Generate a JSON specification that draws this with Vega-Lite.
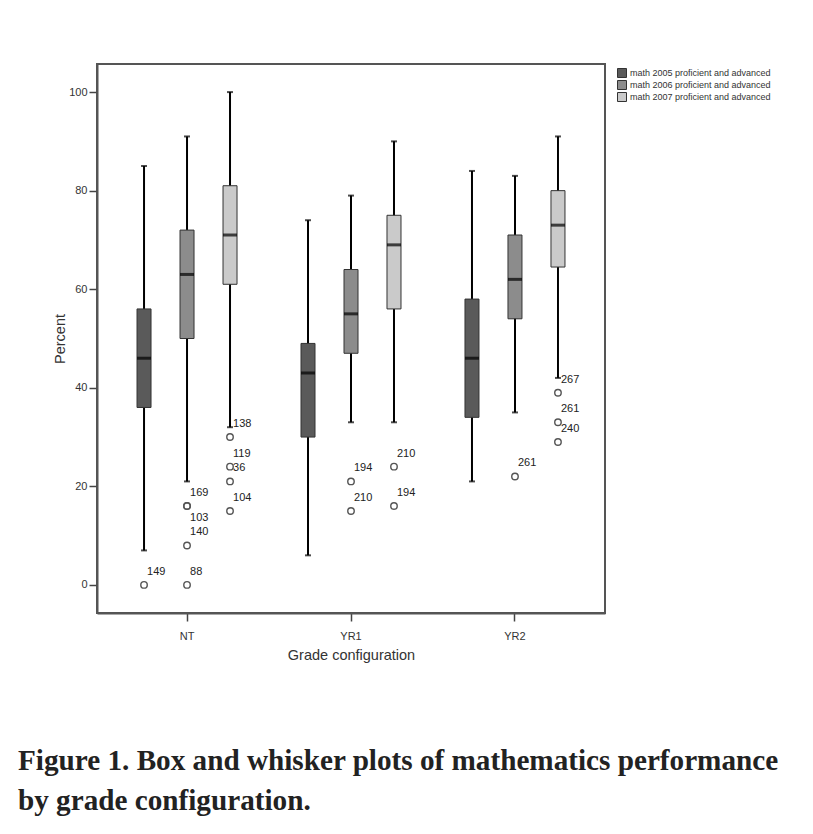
{
  "$schema": "https://vega.github.io/schema/vega-lite/v6.json",
  "width": 508,
  "height": 549,
  "autosize": {"type": "none"},
  "padding": {"left": 97, "top": 64, "right": 208, "bottom": 221},
  "background": "white",
  "title": {
    "text": ["Figure 1. Box and whisker plots of mathematics performance", "by grade configuration."],
    "orient": "bottom",
    "anchor": "start",
    "frame": "group",
    "dx": -79,
    "offset": 85,
    "font": "Liberation Serif",
    "fontSize": 29.2,
    "fontWeight": "bold",
    "lineHeight": 40,
    "color": "#222222"
  },
  "datasets": {
    "boxes": [
      {"config": "NT", "series": "math 2005 proficient and advanced", "lo": 7, "q1": 36, "med": 46, "q3": 56, "hi": 85},
      {"config": "NT", "series": "math 2006 proficient and advanced", "lo": 21, "q1": 50, "med": 63, "q3": 72, "hi": 91},
      {"config": "NT", "series": "math 2007 proficient and advanced", "lo": 32, "q1": 61, "med": 71, "q3": 81, "hi": 100},
      {"config": "YR1", "series": "math 2005 proficient and advanced", "lo": 6, "q1": 30, "med": 43, "q3": 49, "hi": 74},
      {"config": "YR1", "series": "math 2006 proficient and advanced", "lo": 33, "q1": 47, "med": 55, "q3": 64, "hi": 79},
      {"config": "YR1", "series": "math 2007 proficient and advanced", "lo": 33, "q1": 56, "med": 69, "q3": 75, "hi": 90},
      {"config": "YR2", "series": "math 2005 proficient and advanced", "lo": 21, "q1": 34, "med": 46, "q3": 58, "hi": 84},
      {"config": "YR2", "series": "math 2006 proficient and advanced", "lo": 35, "q1": 54, "med": 62, "q3": 71, "hi": 83},
      {"config": "YR2", "series": "math 2007 proficient and advanced", "lo": 42, "q1": 64.5, "med": 73, "q3": 80, "hi": 91}
    ],
    "outliers": [
      {"config": "NT", "series": "math 2005 proficient and advanced", "value": 0, "id": "149"},
      {"config": "NT", "series": "math 2006 proficient and advanced", "value": 16, "id": "169"},
      {"config": "NT", "series": "math 2006 proficient and advanced", "value": 16, "id": "103"},
      {"config": "NT", "series": "math 2006 proficient and advanced", "value": 8, "id": "140"},
      {"config": "NT", "series": "math 2006 proficient and advanced", "value": 0, "id": "88"},
      {"config": "NT", "series": "math 2007 proficient and advanced", "value": 30, "id": "138"},
      {"config": "NT", "series": "math 2007 proficient and advanced", "value": 24, "id": "119"},
      {"config": "NT", "series": "math 2007 proficient and advanced", "value": 21, "id": "36"},
      {"config": "NT", "series": "math 2007 proficient and advanced", "value": 15, "id": "104"},
      {"config": "YR1", "series": "math 2006 proficient and advanced", "value": 21, "id": "194"},
      {"config": "YR1", "series": "math 2006 proficient and advanced", "value": 15, "id": "210"},
      {"config": "YR1", "series": "math 2007 proficient and advanced", "value": 24, "id": "210"},
      {"config": "YR1", "series": "math 2007 proficient and advanced", "value": 16, "id": "194"},
      {"config": "YR2", "series": "math 2006 proficient and advanced", "value": 22, "id": "261"},
      {"config": "YR2", "series": "math 2007 proficient and advanced", "value": 39, "id": "267"},
      {"config": "YR2", "series": "math 2007 proficient and advanced", "value": 33, "id": "261"},
      {"config": "YR2", "series": "math 2007 proficient and advanced", "value": 29, "id": "240"}
    ]
  },
  "encoding": {
    "x": {
      "field": "config", "type": "nominal",
      "scale": {"type": "band", "paddingInner": 0, "paddingOuter": 0.049},
      "axis": {"title": "Grade configuration", "labelAngle": 0, "tickSize": 8, "labelPadding": 9, "titlePadding": 7}
    },
    "xOffset": {
      "field": "series", "type": "nominal",
      "scale": {"paddingInner": 0, "paddingOuter": 0.407}
    }
  },
  "layer": [
    {
      "data": {"name": "boxes"},
      "mark": {"type": "rule", "color": "black", "strokeWidth": 2},
      "encoding": {
        "y": {
          "field": "lo", "type": "quantitative",
          "scale": {"domain": [-5.7, 105.7], "nice": false, "zero": false},
          "axis": {"title": "Percent", "values": [0, 20, 40, 60, 80, 100], "tickSize": 8, "labelPadding": 2, "titlePadding": 1, "grid": false}
        },
        "y2": {"field": "hi"}
      }
    },
    {
      "data": {"name": "boxes"},
      "mark": {"type": "tick", "color": "black", "size": 6, "thickness": 2},
      "encoding": {"y": {"field": "lo", "type": "quantitative"}}
    },
    {
      "data": {"name": "boxes"},
      "mark": {"type": "tick", "color": "black", "size": 6, "thickness": 2},
      "encoding": {"y": {"field": "hi", "type": "quantitative"}}
    },
    {
      "data": {"name": "boxes"},
      "mark": {"type": "bar", "size": 14, "stroke": "#333333", "strokeWidth": 1},
      "encoding": {
        "y": {"field": "q1", "type": "quantitative"},
        "y2": {"field": "q3"},
        "fill": {
          "field": "series", "type": "nominal",
          "scale": {"range": ["#5a5a5a", "#8c8c8c", "#cacaca"]},
          "legend": {
            "title": null, "orient": "none", "legendX": 520, "legendY": 4,
            "symbolType": "square", "symbolSize": 81, "symbolStrokeColor": "#333333", "symbolStrokeWidth": 1,
            "rowPadding": -3, "labelFontSize": 9, "labelColor": "#333333", "labelOffset": 3
          }
        }
      }
    },
    {
      "data": {"name": "boxes"},
      "mark": {"type": "tick", "color": "black", "size": 14, "thickness": 3},
      "encoding": {"y": {"field": "med", "type": "quantitative"}}
    },
    {
      "data": {"name": "outliers"},
      "mark": {"type": "point", "shape": "circle", "filled": false, "size": 42, "stroke": "#555555", "strokeWidth": 1.4, "opacity": 1},
      "encoding": {"y": {"field": "value", "type": "quantitative"}}
    },
    {
      "data": {"name": "outliers"},
      "transform": [{"filter": "datum.id != '103'"}],
      "mark": {"type": "text", "align": "left", "baseline": "middle", "dx": 3, "dy": -13, "fontSize": 11, "color": "#222222"},
      "encoding": {"y": {"field": "value", "type": "quantitative"}, "text": {"field": "id"}}
    },
    {
      "data": {"name": "outliers"},
      "transform": [{"filter": "datum.id == '103'"}],
      "mark": {"type": "text", "align": "left", "baseline": "middle", "dx": 3, "dy": 12, "fontSize": 11, "color": "#222222"},
      "encoding": {"y": {"field": "value", "type": "quantitative"}, "text": {"field": "id"}}
    }
  ],
  "config": {
    "font": "Liberation Sans",
    "view": {"stroke": "#555555", "strokeWidth": 2},
    "axis": {
      "labelFont": "Liberation Sans", "labelFontSize": 11, "labelColor": "#333333",
      "titleFont": "Liberation Sans", "titleFontSize": 14.5, "titleFontWeight": "normal", "titleColor": "#333333",
      "domainColor": "#555555", "domainWidth": 2, "tickColor": "#444444", "tickWidth": 1.5
    },
    "legend": {"labelFont": "Liberation Sans"}
  }
}
